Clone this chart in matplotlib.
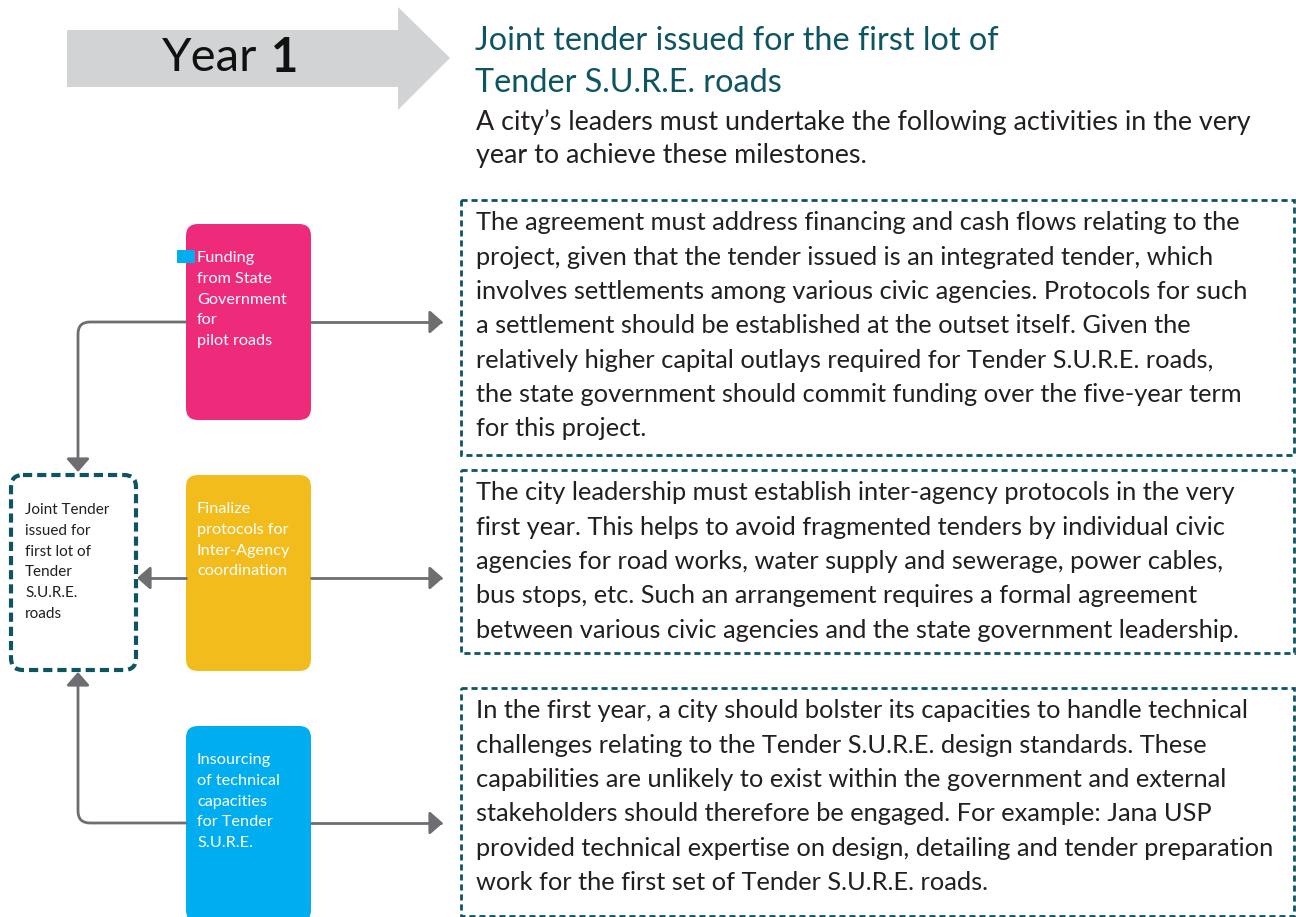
import matplotlib
matplotlib.use('Agg')
import matplotlib.pyplot as plt
from matplotlib.patches import FancyBboxPatch, Rectangle, Polygon, FancyArrowPatch
from matplotlib.path import Path

plt.rcParams['font.family'] = ['Lato', 'DejaVu Sans']

# text content
year_label = 'Year'
year_num = '1'
title_lines = ['Joint tender issued for the first lot of', 'Tender S.U.R.E. roads']
intro_lines = ['A city\u2019s leaders must undertake the following activities in the very',
               'year to achieve these milestones.']

step_labels = [
    ['Funding', 'from State', 'Government', 'for', 'pilot roads'],
    ['Finalize', 'protocols for', 'Inter-Agency', 'coordination'],
    ['Insourcing', 'of technical', 'capacities', 'for Tender', 'S.U.R.E.'],
]
step_colors = ['#ee2a7b', '#f2bc1c', '#00aeef']

goal_label = ['Joint Tender', 'issued for', 'first lot of', 'Tender', 'S.U.R.E.', 'roads']

details = [
    ['The agreement must address financing and cash flows relating to the',
     'project, given that the tender issued is an integrated tender, which',
     'involves settlements among various civic agencies. Protocols for such',
     'a settlement should be established at the outset itself. Given the',
     'relatively higher capital outlays required for Tender S.U.R.E. roads,',
     'the state government should commit funding over the five-year term',
     'for this project.'],
    ['The city leadership must establish inter-agency protocols in the very',
     'first year. This helps to avoid fragmented tenders by individual civic',
     'agencies for road works, water supply and sewerage, power cables,',
     'bus stops, etc. Such an arrangement requires a formal agreement',
     'between various civic agencies and the state government leadership.'],
    ['In the first year, a city should bolster its capacities to handle technical',
     'challenges relating to the Tender S.U.R.E. design standards. These',
     'capabilities are unlikely to exist within the government and external',
     'stakeholders should therefore be engaged. For example: Jana USP',
     'provided technical expertise on design, detailing and tender preparation',
     'work for the first set of Tender S.U.R.E. roads.'],
]

teal = '#0d5560'
grey = '#6d6e71'

fig = plt.figure(figsize=(12.96, 9.17), dpi=100)
ax = fig.add_axes([0, 0, 1, 1])
ax.set_xlim(0, 1296)
ax.set_ylim(917, 0)
ax.axis('off')

# big grey arrow at top
ax.add_patch(Polygon([(67, 30), (398, 30), (398, 7), (450, 58), (398, 110), (398, 87), (67, 87)],
                     closed=True, fc='#d1d3d4', ec='none'))
ax.text(257, 58, year_label, fontsize=34, ha='right', va='center', color='#111111')
ax.text(271, 58, year_num, fontsize=34, ha='left', va='center', color='#111111', fontweight='bold')

# heading
for i, s in enumerate(title_lines):
    ax.text(475, 41 + i * 42, s, fontsize=23.3, color=teal, va='center', ha='left')
for i, s in enumerate(intro_lines):
    ax.text(476, 122 + i * 34, s, fontsize=19.4, color='#231f20', va='center', ha='left')

# right detail boxes
box_y = [(200, 455), (470, 653), (688, 916)]
for (y0, y1), lines in zip(box_y, details):
    ax.add_patch(Rectangle((461, y0), 833, y1 - y0, fill=False, ec=teal, lw=2,
                           linestyle=(0, (2.2, 1.4))))
    for j, s in enumerate(lines):
        ax.text(476, y0 + 23 + j * 34.3, s, fontsize=18.3, color='#231f20', va='center', ha='left')

# coloured step boxes
box_top = [224, 475, 726]
for top, col, lines in zip(box_top, step_colors, step_labels):
    ax.add_patch(FancyBboxPatch((186, top), 125, 196, boxstyle='round,pad=0,rounding_size=12',
                                fc=col, ec='none'))
    for j, s in enumerate(lines):
        ax.text(197, top + 34 + j * 20.8, s, fontsize=11.7, color='white', va='center', ha='left')

# small blue marker on the pink box
ax.add_patch(Rectangle((177, 250), 18, 13, fc='#00aeef', ec='none'))

# goal box on the left
ax.add_patch(FancyBboxPatch((11, 475), 125, 195, boxstyle='round,pad=0,rounding_size=12',
                            fill=False, ec=teal, lw=3, linestyle=(0, (2.2, 1.2))))
for j, s in enumerate(goal_label):
    ax.text(25, 510 + j * 20.8, s, fontsize=11, color='#231f20', va='center', ha='left')

# connectors
def arrow(verts, codes):
    ax.add_patch(FancyArrowPatch(path=Path(verts, codes), arrowstyle='-|>,head_length=8,head_width=7',
                                 mutation_scale=1, color=grey, lw=2, shrinkA=0, shrinkB=0))

L, C3 = Path.LINETO, Path.CURVE3
for y in (322, 578, 823):
    arrow([(311, y), (443, y)], [Path.MOVETO, L])
arrow([(186, 578), (137, 578)], [Path.MOVETO, L])
arrow([(186, 322), (90, 322), (78, 322), (78, 334), (78, 472)],
      [Path.MOVETO, L, C3, C3, L])
arrow([(186, 823), (90, 823), (78, 823), (78, 811), (78, 672)],
      [Path.MOVETO, L, C3, C3, L])

fig.savefig('out.png', dpi=100)
